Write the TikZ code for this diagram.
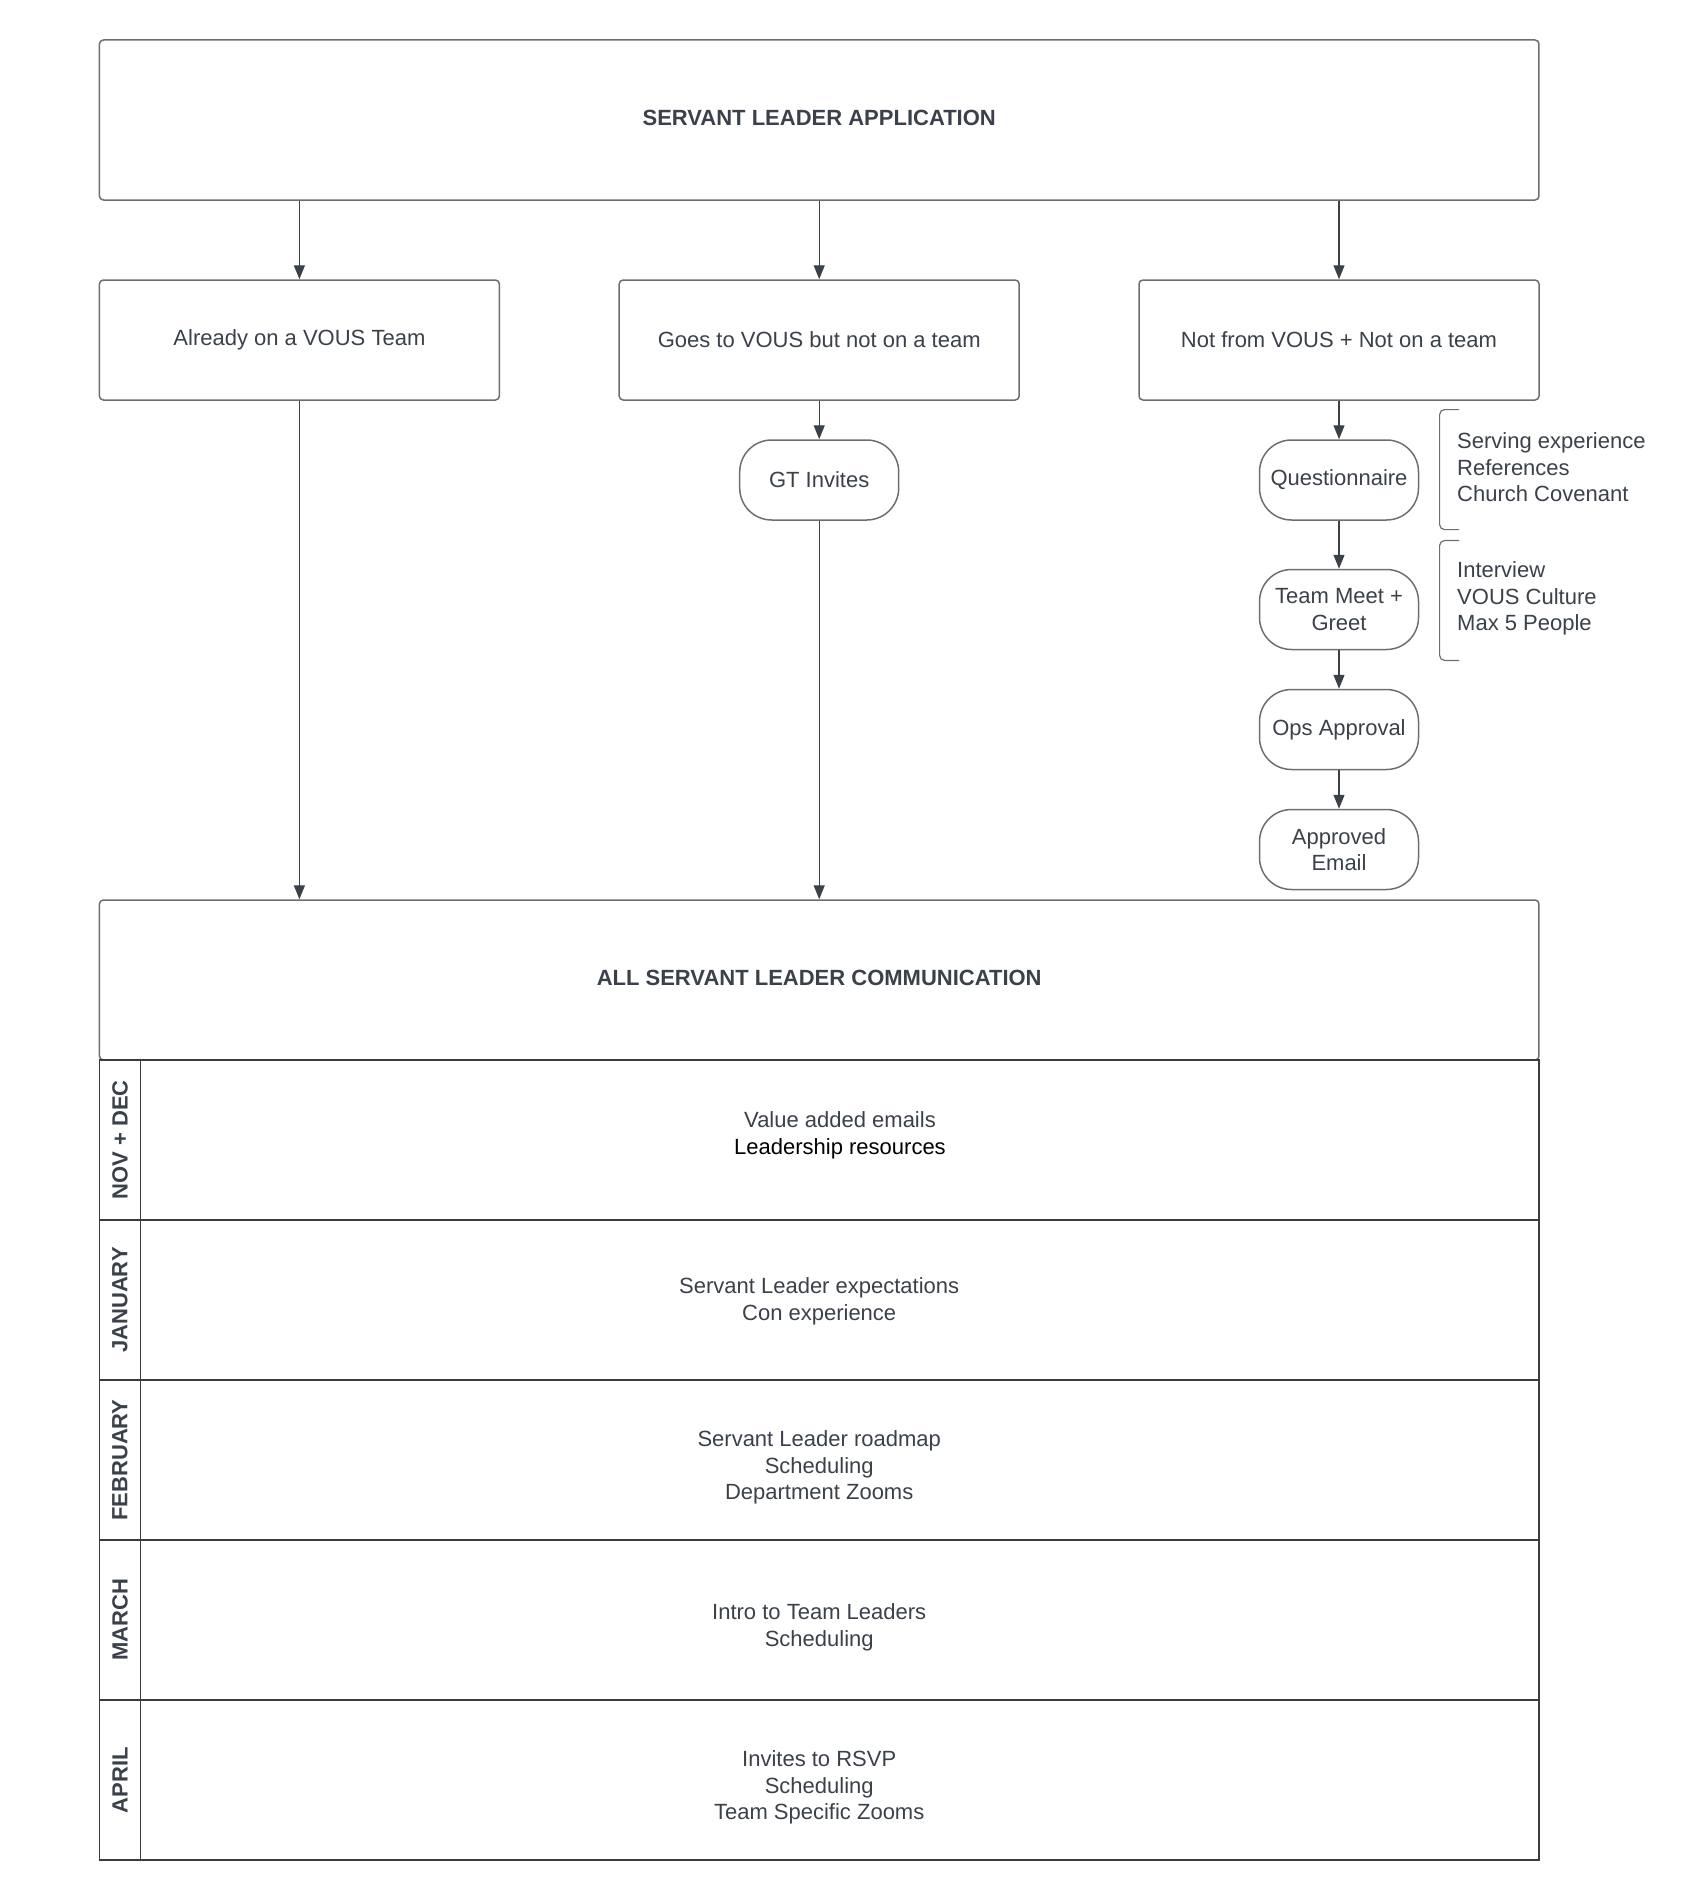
\documentclass[tikz,border=0pt]{standalone}
\usepackage{fontspec}
\setmainfont{Liberation Sans}
\usetikzlibrary{positioning,arrows.meta,calc}
\definecolor{cInk}{HTML}{3A414A}
\definecolor{cEdge}{HTML}{6E6E6E}
\definecolor{cRule}{HTML}{3C3C3C}
\newcommand{\bodyfont}{\fontsize{22}{26.6}\selectfont}
\tikzset{
  blk/.style={draw=cEdge, line width=1.5pt, rounded corners=4pt, align=center,
              text=cInk, inner sep=0pt, font=\bodyfont},
  stage/.style={blk, minimum width=1439.5pt, minimum height=160pt, font=\bodyfont\bfseries},
  opt/.style={blk, minimum width=400pt, minimum height=120pt},
  pill/.style={blk, rounded corners=32pt, minimum width=159pt, minimum height=80pt},
  cell/.style={blk, draw=cRule, rounded corners=0pt, minimum width=1439.5pt, minimum height=160pt},
  month/.style={blk, draw=cRule, rounded corners=0pt, rotate=90, minimum width=160pt,
                minimum height=41.2pt, font=\bodyfont\bfseries},
  txt/.style={align=center, text=cInk, inner sep=0pt, font=\bodyfont},
  note/.style={txt, align=left, anchor=west},
  brk/.style={draw=cEdge, line width=1.2pt, rounded corners=5pt},
  ar/.style={-{Triangle[length=14pt,width=11pt]}, line width=1.3pt, cInk},
}

\begin{document}
\begin{tikzpicture}[x=1pt, y=-1pt]
    \useasboundingbox (0,0) rectangle (1699,1900);

    % application and the three entry paths
    \node[stage] (app) at (819.2,120) {\raisebox{3.6pt}{SERVANT LEADER APPLICATION}};
    \node[opt] (b1) at (299.4,340)  {Already on a VOUS Team};
    \node[opt] (b2) at (819.2,340)  {Goes to VOUS but not on a team};
    \node[opt] (b3) at (1339,340)   {Not from VOUS + Not on a team};
    \foreach \b in {b1,b2,b3}
      \draw[ar] (app.south -| \b) -- (\b);

    % middle path
    \node[pill] (gt) at (819.2,480) {GT Invites};
    \draw[ar] (b2) -- (gt);

    % outside path
    \node[pill] (q1)  at (1339,480)   {Questionnaire};
    \node[pill] (tm)  at (1339,609.5) {Team Meet +\\ Greet};
    \node[pill] (ops) at (1339,729.5) {Ops Approval};
    \node[pill] (ae)  at (1339,849.5) {Approved\\ Email};
    \draw[ar] (b3) -- (q1); \draw[ar] (q1) -- (tm); \draw[ar] (tm) -- (ops); \draw[ar] (ops) -- (ae);

    \node[note] (n1) at (1457,467.5) {Serving experience\\ References\\ Church Covenant};
    \node[note] (n2) at (1457,598.5) {Interview\\ VOUS Culture\\ Max 5 People};
    \draw[brk] (1459,409.6) -- (1439.6,409.6) -- (1439.6,529.6) -- (1459,529.6);
    \draw[brk] (1459,540.5) -- (1439.6,540.5) -- (1439.6,660.4) -- (1459,660.4);

    % communication table
    \node[stage] (hdr) at (819.2,980) {\raisebox{3.6pt}{ALL SERVANT LEADER COMMUNICATION}};
    \draw[ar] (b1) -- (b1 |- hdr.north);
    \draw[ar] (gt) -- (gt |- hdr.north);

    \foreach \i/\y/\m in {1/1140/NOV + DEC, 2/1300/JANUARY, 3/1460/FEBRUARY, 4/1620/MARCH, 5/1780/APRIL} {
      \node[cell]  (r\i) at (819.2,\y) {};
      \node[month] (m\i) at (120,\y) {\m};
    }
    \node[txt] (t1) at (840,1135.5)   {Value added emails\\ \textcolor{black}{Leadership resources}};
    \node[txt] (t2) at (819.2,1301.5) {Servant Leader expectations\\ Con experience};
    \node[txt] (t3) at (819.2,1467.5) {Servant Leader roadmap\\ Scheduling\\ Department Zooms};
    \node[txt] (t4) at (819.2,1627.5) {Intro to Team Leaders\\ Scheduling};
    \node[txt] (t5) at (819.2,1787.5) {Invites to RSVP\\ Scheduling\\ Team Specific Zooms};
\end{tikzpicture}
\end{document}
